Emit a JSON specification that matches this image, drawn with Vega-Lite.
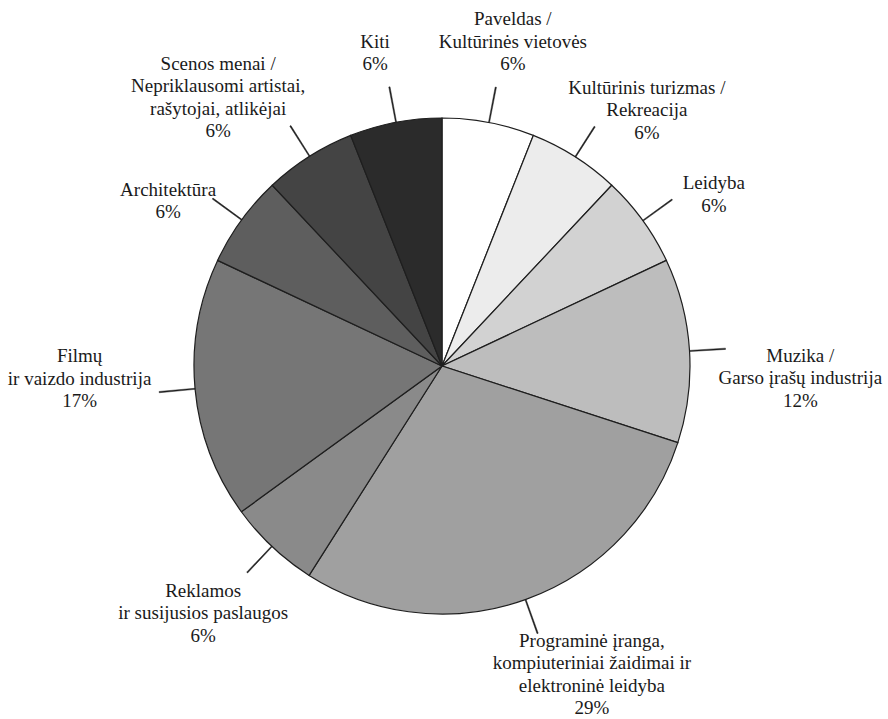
{
  "$schema": "https://vega.github.io/schema/vega-lite/v6.json",
  "width": 884,
  "height": 702,
  "autosize": {"type": "none"},
  "padding": {"left": 0, "right": 0, "top": 15, "bottom": 0},
  "background": "white",
  "data": {
    "values": [
      {"i": 1, "name": "Paveldas", "value": 6, "label": "Paveldas /\nKultūrinės vietovės\n6%"},
      {"i": 2, "name": "Kultūrinis turizmas", "value": 6, "label": "Kultūrinis turizmas /\nRekreacija\n6%"},
      {"i": 3, "name": "Leidyba", "value": 6, "label": "Leidyba\n6%"},
      {"i": 4, "name": "Muzika", "value": 12, "label": "Muzika /\nGarso įrašų industrija\n12%"},
      {"i": 5, "name": "Programinė įranga", "value": 29, "label": "Programinė įranga,\nkompiuteriniai žaidimai ir\nelektroninė leidyba\n29%"},
      {"i": 6, "name": "Reklamos", "value": 6, "label": "Reklamos\nir susijusios paslaugos\n6%"},
      {"i": 7, "name": "Filmų", "value": 17, "label": "Filmų\nir vaizdo industrija\n17%"},
      {"i": 8, "name": "Architektūra", "value": 6, "label": "Architektūra\n6%"},
      {"i": 9, "name": "Scenos menai", "value": 6, "label": "Scenos menai /\nNepriklausomi artistai,\nrašytojai, atlikėjai\n6%"},
      {"i": 10, "name": "Kiti", "value": 6, "label": "Kiti\n6%"}
    ]
  },
  "transform": [
    {"window": [{"op": "sum", "field": "value", "as": "cum"}], "sort": [{"field": "i", "order": "ascending"}], "frame": [null, 0]},
    {"calculate": "datum.cum - datum.value / 2", "as": "mid"},
    {"calculate": "datum.mid + 0.07", "as": "mid2"}
  ],
  "encoding": {
    "theta": {"field": "mid", "type": "quantitative", "stack": null, "scale": {"domain": [0, 100]}},
    "text": {"field": "label"}
  },
  "layer": [
    {
      "mark": {"type": "arc", "outerRadius": 248, "stroke": "#1e1e1e", "strokeWidth": 1.2},
      "encoding": {
        "theta": {"field": "value", "type": "quantitative", "stack": true, "scale": {"domain": [0, 100]}},
        "text": null,
        "order": {"field": "i", "type": "quantitative"},
        "color": {
          "field": "name", "type": "nominal", "legend": null,
          "scale": {
            "domain": ["Paveldas", "Kultūrinis turizmas", "Leidyba", "Muzika", "Programinė įranga", "Reklamos", "Filmų", "Architektūra", "Scenos menai", "Kiti"],
            "range": ["#ffffff", "#ececec", "#d2d2d2", "#bdbdbd", "#a0a0a0", "#8a8a8a", "#767676", "#5e5e5e", "#444444", "#2b2b2b"]
          }
        }
      }
    },
    {
      "mark": {"type": "arc", "innerRadius": 248, "outerRadius": 284, "fill": "#1e1e1e", "stroke": "#1e1e1e", "strokeWidth": 0.5},
      "encoding": {
        "text": null,
        "theta2": {"field": "mid2"}
      }
    },
    {
      "transform": [{"filter": {"field": "name", "equal": "Paveldas"}}],
      "mark": {"type": "text", "radius": 330, "dx": 9, "dy": -22.5, "align": "center", "baseline": "middle", "lineBreak": "\n", "font": "Liberation Serif", "fontSize": 19, "lineHeight": 22.5, "color": "#1a1a1a"}
    },
    {
      "transform": [{"filter": {"field": "name", "equal": "Kultūrinis turizmas"}}],
      "mark": {"type": "text", "radius": 330, "dx": 28, "dy": 0.5, "align": "center", "baseline": "middle", "lineBreak": "\n", "font": "Liberation Serif", "fontSize": 19, "lineHeight": 22.5, "color": "#1a1a1a"}
    },
    {
      "transform": [{"filter": {"field": "name", "equal": "Leidyba"}}],
      "mark": {"type": "text", "radius": 320, "dx": 13, "dy": 5.5, "align": "center", "baseline": "middle", "lineBreak": "\n", "font": "Liberation Serif", "fontSize": 19, "lineHeight": 22.5, "color": "#1a1a1a"}
    },
    {
      "transform": [{"filter": {"field": "name", "equal": "Muzika"}}],
      "mark": {"type": "text", "radius": 359, "dx": 0, "dy": 12.5, "align": "center", "baseline": "middle", "lineBreak": "\n", "font": "Liberation Serif", "fontSize": 19, "lineHeight": 22.5, "color": "#1a1a1a"}
    },
    {
      "transform": [{"filter": {"field": "name", "equal": "Programinė įranga"}}],
      "mark": {"type": "text", "radius": 345, "dx": 33, "dy": -50, "align": "center", "baseline": "middle", "lineBreak": "\n", "font": "Liberation Serif", "fontSize": 19, "lineHeight": 22.5, "color": "#1a1a1a"}
    },
    {
      "transform": [{"filter": {"field": "name", "equal": "Reklamos"}}],
      "mark": {"type": "text", "radius": 343, "dx": -4, "dy": -25.5, "align": "center", "baseline": "middle", "lineBreak": "\n", "font": "Liberation Serif", "fontSize": 19, "lineHeight": 22.5, "color": "#1a1a1a"}
    },
    {
      "transform": [{"filter": {"field": "name", "equal": "Filmų"}}],
      "mark": {"type": "text", "radius": 359, "dx": -5, "dy": -43.5, "align": "center", "baseline": "middle", "lineBreak": "\n", "font": "Liberation Serif", "fontSize": 19, "lineHeight": 22.5, "color": "#1a1a1a"}
    },
    {
      "transform": [{"filter": {"field": "name", "equal": "Architektūra"}}],
      "mark": {"type": "text", "radius": 320, "dx": -15, "dy": 12, "align": "center", "baseline": "middle", "lineBreak": "\n", "font": "Liberation Serif", "fontSize": 19, "lineHeight": 22.5, "color": "#1a1a1a"}
    },
    {
      "transform": [{"filter": {"field": "name", "equal": "Scenos menai"}}],
      "mark": {"type": "text", "radius": 345, "dx": -39, "dy": -10.75, "align": "center", "baseline": "middle", "lineBreak": "\n", "font": "Liberation Serif", "fontSize": 19, "lineHeight": 22.5, "color": "#1a1a1a"}
    },
    {
      "transform": [{"filter": {"field": "name", "equal": "Kiti"}}],
      "mark": {"type": "text", "radius": 320, "dx": -7, "dy": -10, "align": "center", "baseline": "middle", "lineBreak": "\n", "font": "Liberation Serif", "fontSize": 19, "lineHeight": 22.5, "color": "#1a1a1a"}
    }
  ],
  "config": {"view": {"stroke": null}}
}
